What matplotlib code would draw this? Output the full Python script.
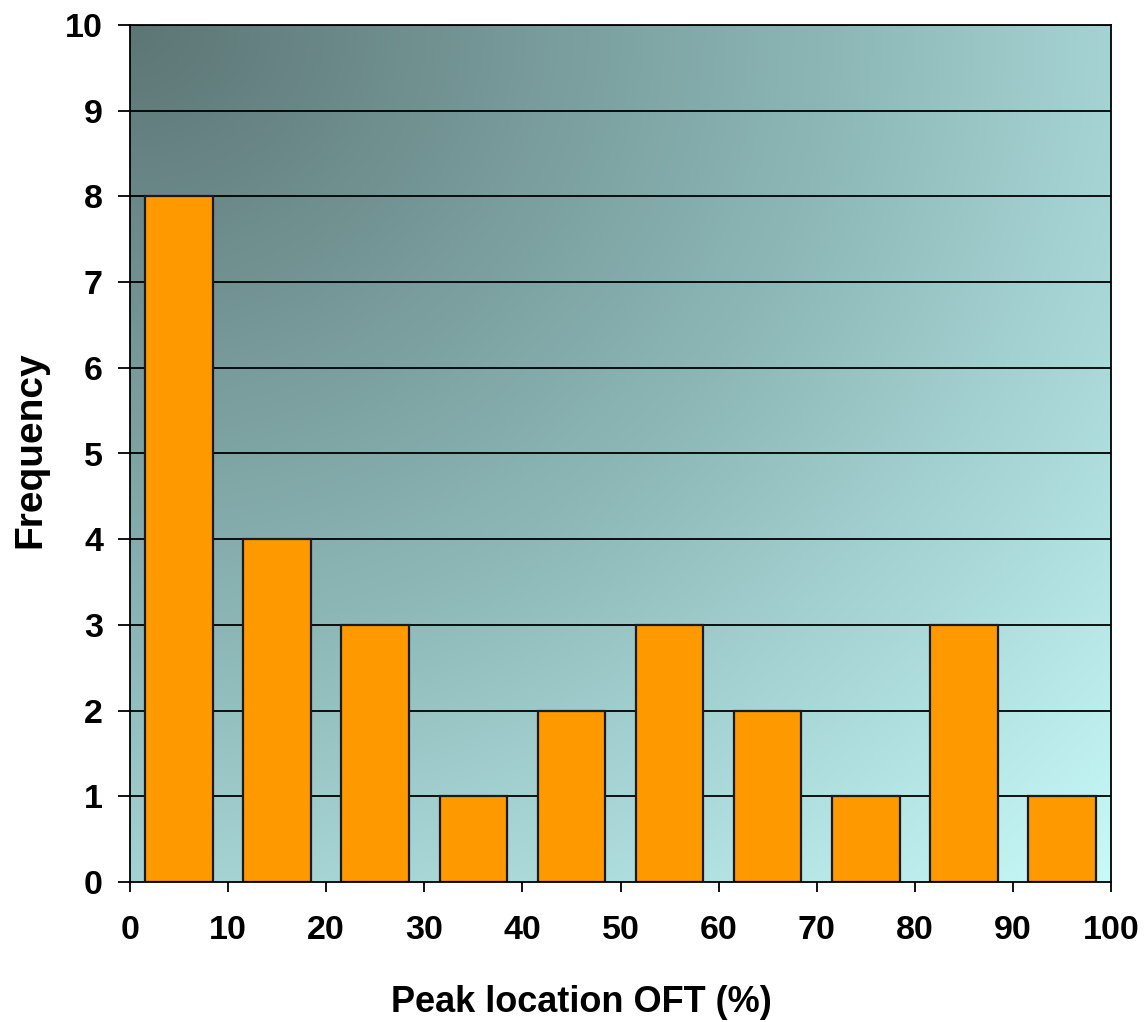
import numpy as np
import matplotlib
matplotlib.use("Agg")
import matplotlib.pyplot as plt
from matplotlib.colors import LinearSegmentedColormap

plt.rcParams['font.family'] = ['Liberation Sans', 'DejaVu Sans']

bin_centers = [5, 15, 25, 35, 45, 55, 65, 75, 85, 95]
frequency = [8, 4, 3, 1, 2, 3, 2, 1, 3, 1]
x_ticks = [0, 10, 20, 30, 40, 50, 60, 70, 80, 90, 100]
y_ticks = [0, 1, 2, 3, 4, 5, 6, 7, 8, 9, 10]

W, H = 1148, 1022
fig = plt.figure(figsize=(W / 100, H / 100), dpi=100)
ax = fig.add_axes([130 / W, 1 - 882 / H, (1111 - 130) / W, (882 - 25) / H])

# gradient background (dark top-left -> light cyan bottom-right)
n = 300
u = np.linspace(0, 1, n)
U, V = np.meshgrid(u, u)  # V: 0 at top
T = np.clip(np.sqrt(U ** 2 + V ** 2) / np.sqrt(2), 0, 1)
cmap = LinearSegmentedColormap.from_list(
    'bg', [(0.0, (93 / 255, 117 / 255, 117 / 255)),
           (0.5, (140 / 255, 182 / 255, 182 / 255)),
           (1.0, (200 / 255, 250 / 255, 250 / 255))])
ax.imshow(T, cmap=cmap, extent=[0, 100, 0, 10], origin='upper',
          aspect='auto', zorder=0, interpolation='bilinear')

for y in y_ticks[1:]:
    ax.axhline(y, color='black', lw=1.3, zorder=1)

ax.bar(bin_centers, frequency, width=6.9, color='#FF9900',
       edgecolor='#1a1a1a', linewidth=1.6, zorder=2)

ax.set_xlim(0, 100)
ax.set_ylim(0, 10)
ax.set_xticks(x_ticks)
ax.set_yticks(y_ticks)
for s in ax.spines.values():
    s.set_color('black')
    s.set_linewidth(1.3)
ax.tick_params(axis='x', direction='out', length=7.5, width=1.3, labelsize=24.5, pad=16)
ax.tick_params(axis='y', direction='out', length=8.5, width=1.3, labelsize=24.5, pad=11)
for lab in ax.get_xticklabels() + ax.get_yticklabels():
    lab.set_fontweight('bold')

fig.text(581 / W, 1 - 1002 / H, 'Peak location OFT (%)', fontsize=26,
         fontweight='bold', ha='center', va='center')
fig.text(30 / W, 1 - 450 / H, 'Frequency', fontsize=28, fontweight='bold',
         ha='center', va='center', rotation=90)

fig.savefig('out.png', dpi=100)
